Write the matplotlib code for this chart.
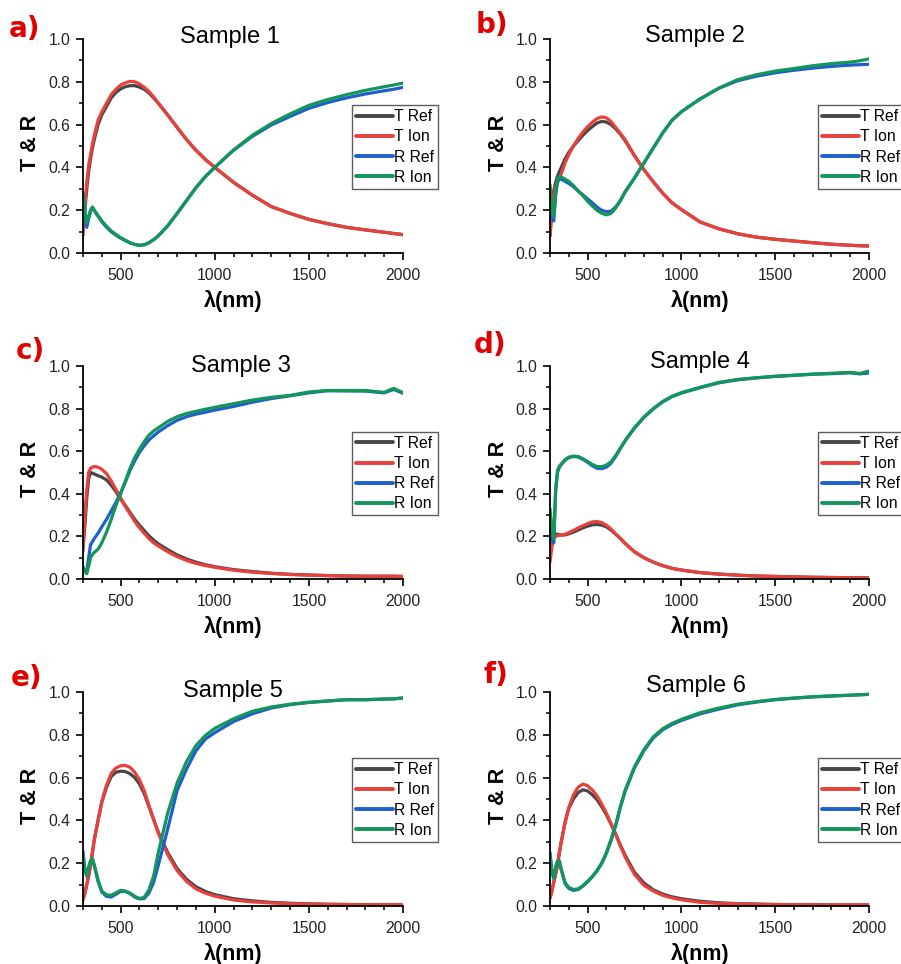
import matplotlib
matplotlib.use("Agg")
import matplotlib.pyplot as plt
from matplotlib.ticker import MultipleLocator

plt.rcParams['font.family'] = ['Liberation Sans', 'DejaVu Sans']

# wavelength grid (nm)
wl = [300, 310, 320, 330, 340, 350, 360, 380, 400, 425, 450, 475, 500, 525, 550, 575,
      600, 625, 650, 675, 700, 750, 800, 850, 900, 950, 1000, 1100, 1200, 1300, 1400,
      1500, 1600, 1700, 1800, 1900, 1950, 2000]

series_names = ["T Ref", "T Ion", "R Ref", "R Ion"]
panel_letters = ["a)", "b)", "c)", "d)", "e)", "f)"]
titles = ["Sample 1", "Sample 2", "Sample 3", "Sample 4", "Sample 5", "Sample 6"]

# ---- Sample 1 ----
s1_T_ref = [0.10, 0.20, 0.30, 0.38, 0.44, 0.49, 0.53, 0.60, 0.645, 0.685, 0.725, 0.75, 0.767, 0.777, 0.782, 0.782,
            0.775, 0.765, 0.748, 0.725, 0.70, 0.645, 0.587, 0.53, 0.48, 0.437, 0.40, 0.33, 0.27, 0.217, 0.185,
            0.157, 0.137, 0.12, 0.108, 0.097, 0.091, 0.086]
s1_T_ion = [0.08, 0.22, 0.33, 0.41, 0.46, 0.51, 0.55, 0.62, 0.66, 0.70, 0.74, 0.765, 0.785, 0.795, 0.802, 0.80,
            0.79, 0.775, 0.755, 0.73, 0.70, 0.645, 0.587, 0.53, 0.48, 0.437, 0.40, 0.33, 0.27, 0.217, 0.185,
            0.157, 0.137, 0.12, 0.108, 0.097, 0.091, 0.086]
s1_R_ref = [0.27, 0.17, 0.12, 0.16, 0.195, 0.213, 0.198, 0.172, 0.146, 0.12, 0.099, 0.083, 0.069, 0.058, 0.047, 0.04,
            0.036, 0.038, 0.048, 0.062, 0.08, 0.127, 0.185, 0.245, 0.305, 0.357, 0.40, 0.48, 0.545, 0.598, 0.638,
            0.676, 0.703, 0.725, 0.743, 0.758, 0.765, 0.774]
s1_R_ion = [0.28, 0.20, 0.14, 0.17, 0.20, 0.215, 0.20, 0.175, 0.15, 0.125, 0.103, 0.087, 0.072, 0.06, 0.048, 0.04,
            0.036, 0.038, 0.048, 0.062, 0.08, 0.127, 0.185, 0.245, 0.305, 0.357, 0.40, 0.482, 0.55, 0.605, 0.65,
            0.69, 0.717, 0.74, 0.76, 0.777, 0.785, 0.794]

# ---- Sample 2 ----
s2_T_ref = [0.08, 0.20, 0.29, 0.33, 0.36, 0.38, 0.40, 0.44, 0.47, 0.50, 0.525, 0.55, 0.572, 0.59, 0.607, 0.615,
            0.612, 0.60, 0.58, 0.555, 0.525, 0.455, 0.39, 0.333, 0.28, 0.235, 0.203, 0.145, 0.113, 0.09, 0.074,
            0.064, 0.056, 0.048, 0.041, 0.036, 0.034, 0.033]
s2_T_ion = [0.08, 0.20, 0.27, 0.31, 0.34, 0.355, 0.37, 0.42, 0.46, 0.50, 0.535, 0.565, 0.59, 0.61, 0.628, 0.636,
            0.632, 0.615, 0.587, 0.56, 0.53, 0.455, 0.39, 0.333, 0.28, 0.235, 0.203, 0.145, 0.113, 0.09, 0.074,
            0.064, 0.056, 0.048, 0.041, 0.036, 0.034, 0.033]
s2_R_ref = [0.25, 0.17, 0.15, 0.27, 0.33, 0.345, 0.345, 0.335, 0.325, 0.31, 0.29, 0.272, 0.253, 0.235, 0.215, 0.20,
            0.193, 0.195, 0.215, 0.245, 0.285, 0.35, 0.42, 0.49, 0.56, 0.62, 0.66, 0.72, 0.77, 0.805, 0.826,
            0.842, 0.854, 0.864, 0.872, 0.878, 0.88, 0.882]
s2_R_ion = [0.32, 0.20, 0.17, 0.28, 0.34, 0.36, 0.355, 0.345, 0.335, 0.315, 0.29, 0.268, 0.242, 0.22, 0.20, 0.186,
            0.178, 0.185, 0.21, 0.245, 0.285, 0.35, 0.42, 0.49, 0.56, 0.62, 0.66, 0.72, 0.77, 0.81, 0.833,
            0.85, 0.862, 0.875, 0.885, 0.892, 0.898, 0.907]

# ---- Sample 3 ----
s3_T_ref = [0.15, 0.25, 0.38, 0.47, 0.50, 0.497, 0.493, 0.485, 0.478, 0.465, 0.44, 0.41, 0.375, 0.345, 0.312, 0.28,
            0.252, 0.228, 0.203, 0.183, 0.165, 0.138, 0.113, 0.094, 0.079, 0.067, 0.058, 0.044, 0.035, 0.027, 0.022,
            0.019, 0.016, 0.014, 0.013, 0.013, 0.013, 0.012]
s3_T_ion = [0.13, 0.30, 0.42, 0.50, 0.52, 0.525, 0.528, 0.525, 0.515, 0.495, 0.46, 0.42, 0.38, 0.34, 0.305, 0.27,
            0.24, 0.215, 0.19, 0.17, 0.155, 0.128, 0.105, 0.087, 0.073, 0.063, 0.055, 0.041, 0.032, 0.026, 0.021,
            0.018, 0.016, 0.014, 0.013, 0.013, 0.013, 0.012]
s3_R_ref = [0.05, 0.04, 0.035, 0.10, 0.16, 0.175, 0.19, 0.215, 0.245, 0.28, 0.32, 0.36, 0.405, 0.455, 0.51, 0.555,
            0.595, 0.625, 0.652, 0.672, 0.69, 0.72, 0.745, 0.762, 0.774, 0.783, 0.793, 0.81, 0.83, 0.847, 0.86,
            0.874, 0.884, 0.883, 0.882, 0.874, 0.89, 0.872]
s3_R_ion = [0.06, 0.035, 0.025, 0.06, 0.10, 0.115, 0.125, 0.14, 0.17, 0.22, 0.28, 0.345, 0.40, 0.46, 0.52, 0.57,
            0.61, 0.645, 0.675, 0.695, 0.71, 0.74, 0.762, 0.777, 0.787, 0.797, 0.806, 0.823, 0.84, 0.853, 0.862,
            0.878, 0.885, 0.885, 0.885, 0.876, 0.895, 0.875]

# ---- Sample 4 ----
s4_T_ref = [0.14, 0.19, 0.21, 0.212, 0.21, 0.208, 0.207, 0.207, 0.212, 0.22, 0.23, 0.24, 0.248, 0.254, 0.256, 0.253,
            0.245, 0.23, 0.21, 0.19, 0.167, 0.128, 0.10, 0.079, 0.063, 0.05, 0.042, 0.03, 0.023, 0.018, 0.014,
            0.012, 0.01, 0.008, 0.007, 0.006, 0.006, 0.005]
s4_T_ion = [0.08, 0.15, 0.19, 0.20, 0.203, 0.205, 0.206, 0.21, 0.218, 0.228, 0.24, 0.25, 0.26, 0.268, 0.27, 0.265,
            0.253, 0.235, 0.212, 0.19, 0.167, 0.128, 0.10, 0.079, 0.063, 0.05, 0.042, 0.03, 0.023, 0.018, 0.014,
            0.012, 0.01, 0.008, 0.007, 0.006, 0.006, 0.005]
s4_R_ref = [0.30, 0.22, 0.17, 0.41, 0.50, 0.525, 0.537, 0.557, 0.57, 0.575, 0.573, 0.562, 0.548, 0.532, 0.52, 0.518,
            0.525, 0.543, 0.575, 0.612, 0.648, 0.708, 0.758, 0.798, 0.831, 0.856, 0.873, 0.898, 0.921, 0.935, 0.944,
            0.951, 0.956, 0.961, 0.964, 0.968, 0.963, 0.967]
s4_R_ion = [0.33, 0.24, 0.19, 0.42, 0.51, 0.53, 0.54, 0.56, 0.572, 0.577, 0.575, 0.565, 0.552, 0.538, 0.528, 0.527,
            0.535, 0.55, 0.58, 0.615, 0.65, 0.71, 0.76, 0.80, 0.833, 0.858, 0.875, 0.90, 0.923, 0.937, 0.945,
            0.952, 0.957, 0.962, 0.966, 0.97, 0.965, 0.976]

# ---- Sample 5 ----
s5_T_ref = [0.03, 0.06, 0.10, 0.14, 0.19, 0.25, 0.31, 0.40, 0.485, 0.555, 0.605, 0.625, 0.63, 0.628, 0.618, 0.60,
            0.57, 0.525, 0.465, 0.405, 0.345, 0.25, 0.175, 0.125, 0.09, 0.068, 0.053, 0.034, 0.024, 0.017, 0.013,
            0.01, 0.008, 0.007, 0.006, 0.006, 0.006, 0.005]
s5_T_ion = [0.03, 0.06, 0.10, 0.14, 0.19, 0.25, 0.31, 0.40, 0.49, 0.565, 0.62, 0.645, 0.655, 0.657, 0.648, 0.625,
            0.59, 0.54, 0.47, 0.405, 0.34, 0.24, 0.165, 0.115, 0.08, 0.06, 0.046, 0.028, 0.019, 0.014, 0.011,
            0.009, 0.008, 0.007, 0.006, 0.006, 0.006, 0.005]
s5_R_ref = [0.255, 0.17, 0.14, 0.18, 0.21, 0.22, 0.19, 0.115, 0.065, 0.045, 0.042, 0.055, 0.068, 0.068, 0.058, 0.042,
            0.033, 0.035, 0.06, 0.11, 0.19, 0.36, 0.54, 0.64, 0.725, 0.78, 0.81, 0.862, 0.898, 0.925, 0.941,
            0.951, 0.958, 0.964, 0.964, 0.967, 0.968, 0.972]
s5_R_ion = [0.24, 0.17, 0.14, 0.18, 0.21, 0.22, 0.19, 0.12, 0.07, 0.052, 0.05, 0.062, 0.073, 0.07, 0.06, 0.045,
            0.035, 0.04, 0.075, 0.14, 0.25, 0.435, 0.575, 0.675, 0.75, 0.797, 0.83, 0.875, 0.91, 0.93, 0.943,
            0.952, 0.958, 0.964, 0.964, 0.967, 0.968, 0.972]

# ---- Sample 6 ----
s6_T_ref = [0.037, 0.07, 0.11, 0.15, 0.19, 0.25, 0.30, 0.39, 0.455, 0.50, 0.53, 0.543, 0.538, 0.52, 0.497, 0.465,
            0.427, 0.383, 0.337, 0.285, 0.238, 0.158, 0.108, 0.076, 0.056, 0.043, 0.034, 0.022, 0.015, 0.011, 0.009,
            0.007, 0.006, 0.006, 0.005, 0.005, 0.005, 0.005]
s6_T_ion = [0.037, 0.07, 0.11, 0.15, 0.19, 0.25, 0.30, 0.39, 0.46, 0.52, 0.555, 0.57, 0.562, 0.543, 0.515, 0.478,
            0.435, 0.385, 0.335, 0.28, 0.23, 0.148, 0.097, 0.07, 0.05, 0.038, 0.029, 0.017, 0.012, 0.01, 0.008,
            0.007, 0.006, 0.006, 0.005, 0.005, 0.005, 0.005]
s6_R_ref = [0.25, 0.16, 0.13, 0.18, 0.21, 0.21, 0.17, 0.105, 0.082, 0.073, 0.077, 0.093, 0.113, 0.136, 0.163, 0.198,
            0.245, 0.305, 0.375, 0.46, 0.535, 0.645, 0.725, 0.785, 0.823, 0.848, 0.867, 0.898, 0.92, 0.94, 0.953,
            0.964, 0.971, 0.977, 0.981, 0.985, 0.987, 0.989]
s6_R_ion = [0.24, 0.16, 0.13, 0.18, 0.21, 0.21, 0.17, 0.11, 0.087, 0.077, 0.08, 0.095, 0.115, 0.138, 0.165, 0.20,
            0.248, 0.31, 0.38, 0.465, 0.54, 0.65, 0.73, 0.79, 0.828, 0.853, 0.872, 0.903, 0.925, 0.943, 0.955,
            0.965, 0.972, 0.978, 0.982, 0.985, 0.987, 0.989]

panels = [
    [s1_T_ref, s1_T_ion, s1_R_ref, s1_R_ion],
    [s2_T_ref, s2_T_ion, s2_R_ref, s2_R_ion],
    [s3_T_ref, s3_T_ion, s3_R_ref, s3_R_ion],
    [s4_T_ref, s4_T_ion, s4_R_ref, s4_R_ion],
    [s5_T_ref, s5_T_ion, s5_R_ref, s5_R_ion],
    [s6_T_ref, s6_T_ion, s6_R_ref, s6_R_ion],
]

colors = ["#474747", "#e8413c", "#1d5fcc", "#14965a"]

W, H = 901, 964
fig = plt.figure(figsize=(W / 100, H / 100), dpi=100)

# axes pixel boxes: (left, top, right, bottom)
boxes = [(83, 39, 403, 253), (550, 39, 869, 253),
         (83, 366, 403, 579), (550, 366, 869, 579),
         (83, 692, 403, 906), (550, 692, 869, 906)]
title_pos = [(0.458, 0.983), (0.455, 0.987), (0.494, 0.973), (0.469, 0.992), (0.47, 0.978), (0.459, 0.998)]
letter_pos = [(9, 15), (476, 11), (16, 337), (474, 331), (11, 664), (484, 661)]

for i, (l, t, r, b) in enumerate(boxes):
    ax = fig.add_axes([l / W, 1 - b / H, (r - l) / W, (b - t) / H])
    for name, vals, c in zip(series_names, panels[i], colors):
        ax.plot(wl, vals, color=c, lw=2.3, label=name, solid_capstyle='round')
    ax.set_xlim(300, 2000)
    ax.set_ylim(0, 1.0)
    ax.xaxis.set_major_locator(MultipleLocator(500))
    ax.xaxis.set_minor_locator(MultipleLocator(100))
    ax.yaxis.set_major_locator(MultipleLocator(0.2))
    ax.yaxis.set_minor_locator(MultipleLocator(0.1))
    ax.yaxis.set_major_formatter(matplotlib.ticker.FormatStrFormatter('%.1f'))
    for s in ['top', 'right']:
        ax.spines[s].set_visible(False)
    for s in ['left', 'bottom']:
        ax.spines[s].set_linewidth(1.3)
    ax.tick_params(which='major', direction='out', length=5, width=1.2, labelsize=11.3,
                   colors='black', labelcolor='#222222')
    ax.tick_params(axis='y', which='major', pad=4)
    ax.tick_params(axis='x', which='major', pad=6)
    ax.tick_params(which='minor', direction='out', length=3, width=1.1)
    ax.text(title_pos[i][0], title_pos[i][1], titles[i], transform=ax.transAxes,
            ha='center', va='baseline', fontsize=17)
    ax.text(0.47, -0.225, "λ(nm)", transform=ax.transAxes, ha='center', va='center',
            fontsize=15.5, fontweight='bold')
    ax.text(-0.163, 0.515, "T & R", transform=ax.transAxes, ha='center', va='center',
            rotation=90, fontsize=15.5, fontweight='bold')
    leg = ax.legend(loc='upper left', bbox_to_anchor=(0.84, 0.69), fontsize=11.3,
                    frameon=True, fancybox=False, handlelength=2.35, handletextpad=0.1,
                    labelspacing=0.33, borderpad=0.25, borderaxespad=0)
    leg.get_frame().set_edgecolor('#333333')
    leg.get_frame().set_linewidth(1.0)
    for lh in leg.get_lines():
        lh.set_linewidth(2.8)
    fig.text(letter_pos[i][0] / W, 1 - letter_pos[i][1] / H, panel_letters[i],
             ha='left', va='top', fontsize=20, fontweight='bold', color='#e00000',
             family='DejaVu Sans')

fig.savefig("out.png", dpi=100)
